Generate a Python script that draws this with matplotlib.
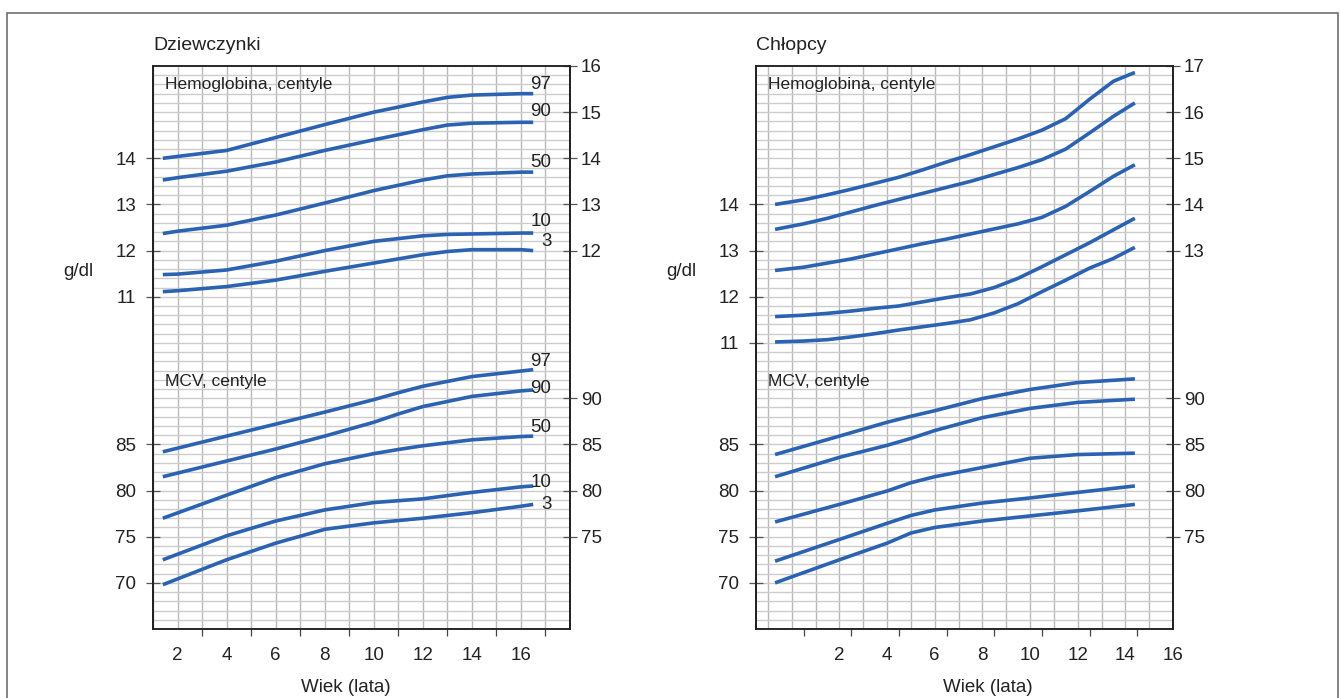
import matplotlib.pyplot as plt
import numpy as np
from matplotlib.patches import Rectangle

plt.rcParams["font.family"] = ["Liberation Sans", "DejaVu Sans"]

W, H = 1340, 698
CURVE = "#2b63b2"
CENTILES = ["97", "90", "50", "10", "3"]

# Dziewczynki - hemoglobina (g/dl)
girls_hb_age = [1.4, 2, 4, 6, 8, 10, 12, 13, 14, 16, 16.5]
girls_hb = [
    [14.0, 14.04, 14.17, 14.45, 14.73, 15.0, 15.22, 15.32, 15.37, 15.40, 15.40],
    [13.53, 13.58, 13.72, 13.92, 14.17, 14.40, 14.62, 14.72, 14.76, 14.78, 14.78],
    [12.37, 12.42, 12.55, 12.77, 13.03, 13.30, 13.53, 13.62, 13.66, 13.70, 13.70],
    [11.48, 11.49, 11.58, 11.77, 12.0, 12.2, 12.32, 12.35, 12.36, 12.38, 12.38],
    [11.11, 11.13, 11.22, 11.36, 11.55, 11.73, 11.91, 11.98, 12.02, 12.02, 12.0],
]

# Dziewczynki - MCV (fl)
girls_mcv_age = [1.4, 4, 6, 8, 10, 11, 12, 14, 16, 16.5]
girls_mcv = [
    [84.2, 85.9, 87.2, 88.5, 89.85, 90.6, 91.3, 92.35, 92.95, 93.1],
    [81.5, 83.2, 84.5, 85.9, 87.4, 88.3, 89.1, 90.2, 90.8, 90.9],
    [77.0, 79.5, 81.4, 82.9, 84.0, 84.45, 84.85, 85.5, 85.85, 85.9],
    [72.5, 75.1, 76.7, 77.9, 78.7, 78.9, 79.1, 79.8, 80.4, 80.5],
    [69.8, 72.5, 74.3, 75.8, 76.5, 76.75, 77.0, 77.6, 78.3, 78.5],
]

# Chlopcy - hemoglobina (g/dl)
boys_hb_age = [-0.7, 0.5, 1.5, 2.5, 3.5, 4.5, 5.5, 6.5, 7.5, 8.5, 9.5, 10.5,
               11.5, 12.5, 13.5, 14.4]
boys_hb = [
    [14.0, 14.1, 14.21, 14.33, 14.46, 14.59, 14.75, 14.92, 15.08, 15.25, 15.42,
     15.61, 15.86, 16.28, 16.67, 16.86],
    [13.46, 13.58, 13.7, 13.84, 13.98, 14.11, 14.24, 14.37, 14.5, 14.65, 14.8,
     14.97, 15.2, 15.55, 15.91, 16.2],
    [12.57, 12.64, 12.73, 12.82, 12.93, 13.04, 13.15, 13.25, 13.36, 13.47, 13.58,
     13.72, 13.96, 14.28, 14.61, 14.86],
    [11.57, 11.6, 11.64, 11.69, 11.75, 11.8, 11.89, 11.98, 12.06, 12.2, 12.4,
     12.65, 12.91, 13.17, 13.45, 13.7],
    [11.02, 11.04, 11.07, 11.13, 11.2, 11.28, 11.35, 11.42, 11.5, 11.65, 11.85,
     12.11, 12.36, 12.62, 12.83, 13.07],
]

# Chlopcy - MCV (fl)
boys_mcv_age = [-0.7, 2, 4, 5, 6, 8, 10, 12, 14.4]
boys_mcv = [
    [83.9, 85.9, 87.4, 88.05, 88.65, 89.97, 90.95, 91.7, 92.1],
    [81.5, 83.6, 84.9, 85.65, 86.5, 87.9, 88.9, 89.55, 89.9],
    [76.6, 78.5, 79.95, 80.85, 81.5, 82.5, 83.5, 83.9, 84.05],
    [72.35, 74.7, 76.45, 77.3, 77.9, 78.65, 79.2, 79.8, 80.5],
    [70.0, 72.5, 74.3, 75.4, 76.0, 76.7, 77.25, 77.8, 78.5],
]

x_labels = [2, 4, 6, 8, 10, 12, 14, 16]
mcv_left_ticks = [70, 75, 80, 85]
mcv_right_ticks = [75, 80, 85, 90]


def fx(px):
    return px / W


def fy(py):
    return 1 - py / H


fig = plt.figure(figsize=(W / 100, H / 100), dpi=100)
fig.add_artist(Rectangle((fx(7), -0.05), fx(1331), fy(13) + 0.05,
                         transform=fig.transFigure, fill=False,
                         ec="#707070", lw=1.2))

tick_kw = dict(direction="inout", length=10, width=0.9, color="#555555",
               labelsize=13.5, labelcolor="#222222")


def panel(left_px, xlim, hb_lim, hb_left, hb_right, minor_x,
          hb_age, hb, mcv_age, mcv, title, label_x, labels):
    ax = fig.add_axes([fx(left_px), fy(629), fx(417), 563 / H])
    ax.set_xlim(*xlim)
    ax.set_ylim(*hb_lim)
    ax2 = ax.twinx()
    ax2.set_ylim(65, 126)

    # grid on the bottom axes: one column per year, one row per 0.2 g/dl (1 fl)
    for x in np.arange(np.ceil(xlim[0]), xlim[1]):
        ax.axvline(x, color="#b9b9b9", lw=1.0, zorder=0)
    for y in np.arange(hb_lim[0] + 0.2, hb_lim[1] - 0.1, 0.2):
        ax.axhline(y, color="#cccccc", lw=1.0, zorder=0)

    for s in list(ax.spines.values()) + list(ax2.spines.values()):
        s.set_color("#222222")
        s.set_linewidth(1.1)

    for vals in hb:
        ax.plot(hb_age, vals, color=CURVE, lw=2.6, solid_capstyle="butt",
                solid_joinstyle="round", zorder=3)
    for vals in mcv:
        ax2.plot(mcv_age, vals, color=CURVE, lw=2.6, solid_capstyle="butt",
                 solid_joinstyle="round", zorder=3)

    # x axis: labels between the tick marks, as in the original
    ax.set_xticks(x_labels)
    ax.set_xticks(minor_x, minor=True)
    ax.tick_params(axis="x", which="major", length=0, pad=13, labelsize=13.5,
                   labelcolor="#222222")
    ax.tick_params(axis="x", which="minor", length=5, width=0.9,
                   color="#444444", direction="out")

    ax.set_yticks(hb_left)
    ax.tick_params(axis="y", pad=7, **tick_kw)
    sec_hb = ax.secondary_yaxis("right")
    sec_hb.set_yticks(hb_right)
    sec_hb.tick_params(axis="y", pad=3, **tick_kw)

    ax2.set_yticks(mcv_right_ticks)
    ax2.tick_params(axis="y", pad=3, **tick_kw)
    sec_mcv = ax2.secondary_yaxis("left")
    sec_mcv.set_yticks(mcv_left_ticks)
    sec_mcv.tick_params(axis="y", pad=7, **tick_kw)
    for sec in (sec_hb, sec_mcv):
        for s in sec.spines.values():
            s.set_color("#222222")
            s.set_linewidth(1.1)

    ax.text(xlim[0] + 0.5, hb_lim[1] - 0.41, "Hemoglobina, centyle",
            fontsize=12.5, color="#222222", va="center", ha="left")
    ax2.text(xlim[0] + 0.5, 91.8, "MCV, centyle",
             fontsize=12.5, color="#222222", va="center", ha="left")

    fig.text(fx(left_px), fy(45), title, fontsize=14, color="#222222",
             va="center", ha="left")
    fig.text(fx(left_px - 75), fy(272), "g/dl", fontsize=13.5, color="#222222",
             va="center", ha="center")
    fig.text(fx(label_x), fy(687), "Wiek (lata)", fontsize=13.5,
             color="#222222", va="center", ha="center")

    if labels:
        hb_dy = [9, 11, 10, 12, 9]
        mcv_dy = [8, 1, 9, 3, 0]
        for name, vals, dy in zip(CENTILES, hb, hb_dy):
            ax.annotate(name, (hb_age[-1], vals[-1]), xytext=(13, dy / 1.39),
                        textcoords="offset points", ha="right", va="center",
                        fontsize=13.5, color="#222222")
        for name, vals, dy in zip(CENTILES, mcv, mcv_dy):
            ax2.annotate(name, (mcv_age[-1], vals[-1]), xytext=(13, dy / 1.39),
                         textcoords="offset points", ha="right", va="center",
                         fontsize=13.5, color="#222222")


panel(153, (1, 18), (3.8, 16.0), [11, 12, 13, 14], [12, 13, 14, 15, 16],
      [3, 5, 7, 9, 11, 13, 15, 17], girls_hb_age, girls_hb, girls_mcv_age,
      girls_mcv, "Dziewczynki", 346, True)
panel(756, (-1.5, 15.5), (4.8, 17.0), [11, 12, 13, 14], [13, 14, 15, 16, 17],
      [0.5, 2.5, 4.5, 6.5, 8.5, 10.5, 12.5, 14.5], boys_hb_age, boys_hb,
      boys_mcv_age, boys_mcv, "Chłopcy", 988, False)

fig.savefig("out.png", dpi=100)
